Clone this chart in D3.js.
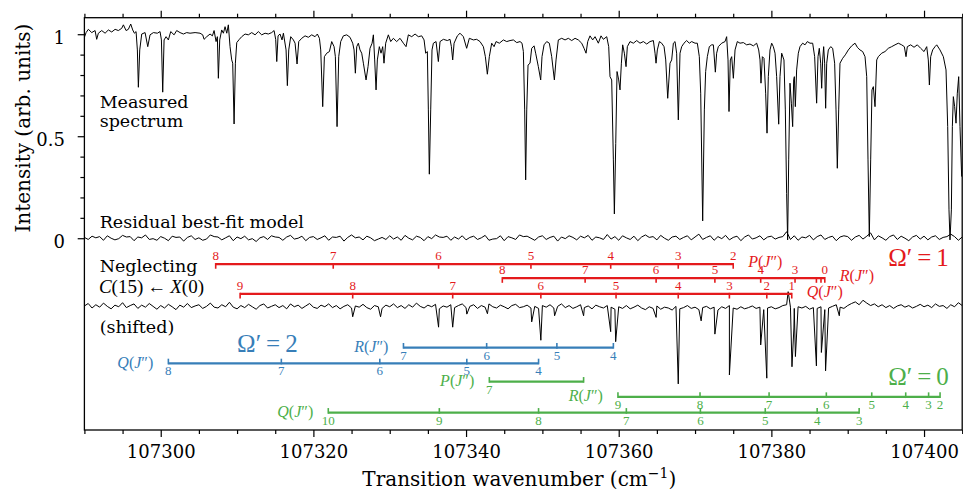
<!DOCTYPE html>
<html>
<head>
<meta charset="utf-8">
<script src="https://cdn.jsdelivr.net/npm/d3@7"></script>
<style>
  body { margin: 0; background: #fff; }
  svg { display: block; font-family: "DejaVu Serif", serif; }
  .math { font-family: "Liberation Serif", "DejaVu Serif", serif; }
</style>
</head>
<body>
<svg id="chart" width="963" height="491"></svg>
<script>
// Measured spectrum, [wavenumber (cm-1), intensity]
const measured = [
  [107289.95,0.980],[107290.22,1.008],[107290.52,1.024],[107290.96,1.008],[107291.40,1.018],[107291.61,0.975],[107291.83,1.005],[107292.27,1.018],
  [107292.71,1.005],[107293.14,1.021],[107293.58,1.011],[107294.02,1.024],[107294.45,1.018],[107294.89,1.029],[107295.11,1.046],[107295.46,1.018],
  [107295.76,1.024],[107296.07,1.050],[107296.33,1.021],[107296.55,1.005],[107296.77,1.013],[107296.94,0.923],[107297.07,0.740],[107297.25,0.923],
  [107297.51,1.001],[107297.95,1.008],[107298.30,0.939],[107298.60,0.997],[107299.04,1.008],[107299.56,1.005],[107299.91,1.013],[107300.09,0.972],
  [107300.26,0.716],[107300.44,0.972],[107300.70,0.988],[107301.00,0.972],[107301.31,1.013],[107301.75,0.997],[107302.09,1.018],[107302.53,1.008],
  [107302.97,1.001],[107303.40,1.008],[107303.84,1.005],[107304.50,1.008],[107305.15,1.005],[107305.50,0.997],[107305.68,0.975],[107306.03,0.988],
  [107306.46,1.001],[107306.77,0.992],[107306.99,1.018],[107307.25,0.964],[107307.42,0.988],[107307.55,0.784],[107307.73,0.972],[107307.99,1.021],
  [107308.21,1.005],[107308.43,1.037],[107308.65,1.005],[107308.86,1.046],[107309.08,0.939],[107309.30,0.874],[107309.43,0.858],[107309.61,0.560],
  [107309.78,0.858],[107309.96,0.959],[107310.30,0.975],[107310.61,0.988],[107311.05,1.001],[107311.48,0.997],[107311.92,1.008],[107312.36,0.997],
  [107312.79,1.013],[107313.23,0.997],[107313.67,1.005],[107314.10,1.001],[107314.54,1.008],[107314.85,1.018],[107315.06,0.975],[107315.20,0.866],
  [107315.37,0.992],[107315.63,1.001],[107315.89,0.972],[107316.07,1.005],[107316.42,0.923],[107316.59,0.748],[107316.77,0.923],[107317.03,0.988],
  [107317.38,0.972],[107317.60,0.956],[107317.86,0.854],[107318.08,0.964],[107318.47,0.980],[107318.91,0.992],[107319.34,0.985],[107319.78,0.997],
  [107320.22,0.988],[107320.52,1.001],[107320.79,0.980],[107320.96,0.923],[107321.22,0.645],[107321.44,0.890],[107321.75,0.907],[107322.10,0.915],
  [107322.40,0.964],[107322.71,0.939],[107322.88,0.890],[107323.10,0.547],[107323.32,0.890],[107323.58,0.964],[107323.93,0.992],[107324.37,0.997],
  [107324.80,0.985],[107325.15,0.956],[107325.33,0.923],[107325.50,0.809],[107325.68,0.939],[107325.89,0.956],[107326.11,0.923],[107326.33,0.907],
  [107326.55,0.858],[107326.90,0.776],[107327.16,0.841],[107327.42,0.931],[107327.69,0.956],[107327.86,0.997],[107328.03,0.874],[107328.21,0.727],
  [107328.38,0.874],[107328.64,0.939],[107328.86,0.907],[107329.08,0.939],[107329.25,0.858],[107329.47,0.956],[107329.82,0.997],[107330.13,0.964],
  [107330.48,0.980],[107330.91,0.964],[107331.35,0.980],[107331.79,0.956],[107332.14,0.939],[107332.44,0.997],[107332.88,0.988],[107333.32,1.001],
  [107333.75,0.988],[107334.19,0.992],[107334.50,0.972],[107334.71,0.907],[107334.93,0.915],[107335.06,0.629],[107335.19,0.314],[107335.37,0.629],
  [107335.54,0.923],[107335.72,0.956],[107336.07,0.964],[107336.37,0.866],[107336.59,0.964],[107337.03,0.975],[107337.55,0.969],[107337.90,0.975],
  [107338.08,0.939],[107338.25,0.874],[107338.43,0.956],[107338.86,0.992],[107339.21,1.005],[107339.65,0.988],[107340.08,0.931],[107340.43,0.980],
  [107340.96,0.972],[107341.39,0.975],[107341.83,0.964],[107342.27,0.939],[107342.53,0.890],[107342.79,0.804],[107343.05,0.890],[107343.36,0.956],
  [107343.67,0.939],[107343.93,0.964],[107344.36,0.956],[107344.89,0.972],[107345.33,0.964],[107345.76,0.969],[107346.20,0.972],[107346.64,0.959],
  [107347.07,0.964],[107347.33,0.956],[107347.51,0.915],[107347.68,0.629],[107347.81,0.286],[107347.95,0.629],[107348.12,0.849],[107348.38,0.858],
  [107348.60,0.931],[107348.91,0.943],[107349.12,0.907],[107349.47,0.841],[107349.78,0.776],[107349.95,0.890],[107350.22,0.948],[107350.57,0.964],
  [107350.91,0.956],[107351.22,0.890],[107351.57,0.776],[107351.79,0.874],[107352.09,0.972],[107352.53,0.980],[107352.97,0.972],[107353.40,0.980],
  [107353.84,0.969],[107354.28,0.980],[107354.71,0.972],[107355.15,0.956],[107355.46,0.931],[107355.72,0.907],[107355.94,0.964],[107356.24,0.992],
  [107356.59,0.972],[107356.90,0.988],[107357.33,0.956],[107357.68,0.992],[107357.99,0.975],[107358.43,0.988],[107358.69,0.939],[107358.86,0.792],
  [107359.08,0.776],[107359.30,0.384],[107359.43,0.119],[107359.61,0.465],[107359.78,0.817],[107360.00,0.776],[107360.17,0.727],[107360.35,0.858],
  [107360.52,0.948],[107360.74,0.907],[107360.96,0.841],[107361.13,0.939],[107361.48,0.964],[107361.92,0.956],[107362.36,0.969],[107362.79,0.956],
  [107363.23,0.964],[107363.67,0.952],[107364.10,0.964],[107364.54,0.969],[107364.76,0.907],[107364.89,0.858],[107365.06,0.923],[107365.33,0.964],
  [107365.63,0.956],[107365.94,0.939],[107366.16,0.874],[107366.42,0.686],[107366.72,0.858],[107366.94,0.874],[107367.16,0.956],[107367.38,0.964],
  [107367.59,0.907],[107367.81,0.580],[107368.03,0.907],[107368.25,0.939],[107368.55,0.956],[107368.90,0.969],[107369.25,0.956],[107369.56,0.964],
  [107370.00,0.956],[107370.30,0.956],[107370.56,0.890],[107370.74,0.711],[107371.00,0.085],[107371.22,0.629],[107371.39,0.817],[107371.61,0.890],
  [107371.87,0.939],[107372.18,0.948],[107372.40,0.948],[107372.66,0.814],[107372.83,0.907],[107373.05,0.939],[107373.49,0.956],[107373.93,0.964],
  [107374.14,0.988],[107374.32,0.874],[107374.45,0.621],[107374.62,0.874],[107374.80,0.890],[107375.02,0.784],[107375.24,0.923],[107375.54,0.964],
  [107375.89,0.956],[107376.33,0.959],[107376.76,0.948],[107377.20,0.952],[107377.64,0.943],[107378.07,0.956],[107378.34,0.923],[107378.51,0.874],
  [107378.64,0.760],[107378.82,0.890],[107379.03,0.882],[107379.25,0.711],[107379.43,0.515],[107379.60,0.792],[107379.82,0.923],[107380.04,0.956],
  [107380.26,0.939],[107380.48,0.907],[107380.69,0.792],[107380.96,0.559],[107381.13,0.792],[107381.35,0.907],[107381.65,0.874],[107381.83,0.629],
  [107382.00,0.220],[107382.13,-0.008],[107382.27,0.384],[107382.44,0.760],[107382.62,0.662],[107382.79,0.547],[107382.92,0.776],[107383.01,0.792],
  [107383.14,0.645],[107383.31,0.825],[107383.53,0.907],[107383.75,0.939],[107384.10,0.956],[107384.41,0.948],[107384.71,0.964],[107385.06,0.956],
  [107385.41,0.956],[107385.67,0.890],[107385.93,0.662],[107386.11,0.890],[107386.28,0.931],[107386.46,0.858],[107386.59,0.735],[107386.72,0.874],
  [107386.85,0.939],[107386.98,0.858],[107387.11,0.637],[107387.25,0.858],[107387.46,0.923],[107387.77,0.939],[107388.03,0.931],[107388.29,0.858],
  [107388.47,0.629],[107388.64,0.343],[107388.82,0.629],[107388.99,0.858],[107389.34,0.882],[107389.69,0.899],[107390.08,0.923],[107390.52,0.943],
  [107390.96,0.956],[107391.26,0.936],[107391.61,0.923],[107391.96,0.915],[107392.27,0.890],[107392.49,0.792],[107392.66,0.384],[107392.83,0.008],
  [107393.01,0.384],[107393.18,0.727],[107393.36,0.743],[107393.58,0.645],[107393.80,0.874],[107394.01,0.890],[107394.45,0.907],[107394.89,0.915],
  [107395.32,0.931],[107395.76,0.939],[107396.20,0.948],[107396.63,0.956],[107397.07,0.948],[107397.42,0.939],[107397.64,0.890],[107397.81,0.939],
  [107398.25,0.948],[107398.69,0.936],[107399.12,0.948],[107399.56,0.931],[107400.00,0.915],[107400.35,0.939],[107400.56,0.874],[107400.70,0.751],
  [107400.87,0.890],[107401.13,0.923],[107401.44,0.939],[107401.66,0.948],[107402.09,0.923],[107402.53,0.890],[107402.88,0.825],[107403.10,0.547],
  [107403.27,0.139],[107403.40,-0.008],[107403.58,0.139],[107403.71,0.547],[107403.84,0.694],[107404.01,0.645],[107404.19,0.564],[107404.36,0.711],
  [107404.54,0.792],[107404.71,0.547],[107404.93,0.302]
];

// Residual and shifted traces are sampled on a 0.5 cm-1 grid starting at 107290
const gridStart = 107290;
const gridStep = 0.5;

const residual = [
  0.004,-0.006,0.010,0.002,0.008,-0.010,0.012,0.000,-0.008,-0.002,0.014,0.006,0.008,-0.012,0.006,0.002,0.016,-0.006,-0.002,-0.010,
  0.008,0.000,-0.012,0.010,0.004,0.006,-0.014,0.004,0.012,-0.006,0.002,-0.010,-0.004,0.016,0.008,0.006,-0.008,0.002,0.012,-0.012,
  0.006,-0.002,0.010,-0.008,-0.002,-0.016,0.002,0.008,-0.006,0.012,0.006,0.004,-0.010,0.006,0.014,-0.004,0.000,0.010,-0.012,0.004,
  0.008,-0.006,0.002,0.012,-0.010,0.006,0.004,0.010,-0.014,0.004,0.016,0.002,0.006,-0.008,0.010,0.002,-0.012,-0.004,0.004,-0.006,
  0.012,-0.004,0.006,-0.010,0.014,0.000,-0.008,0.010,0.004,-0.012,0.008,-0.002,0.016,0.006,0.004,0.010,-0.010,0.006,-0.004,0.012,
  -0.008,0.004,0.010,-0.006,0.002,0.014,-0.010,-0.004,-0.002,0.012,-0.012,0.008,0.002,-0.006,0.016,0.008,0.010,0.000,-0.010,0.006,
  0.012,-0.006,0.004,0.010,-0.014,0.006,-0.002,0.012,0.004,-0.008,0.010,0.002,0.014,-0.010,0.006,0.002,-0.006,0.018,-0.004,0.008,
  -0.010,0.012,0.002,-0.006,0.010,-0.012,0.006,0.016,0.004,0.008,-0.008,0.014,0.000,-0.010,0.006,0.010,-0.006,0.004,0.012,-0.008,
  0.006,0.020,-0.006,0.004,0.012,-0.010,0.008,-0.002,0.014,-0.008,0.004,0.010,-0.012,0.006,0.016,-0.004,0.002,0.012,-0.008,0.006,
  0.010,-0.004,0.004,0.008,0.032,-0.006,0.012,-0.010,0.006,0.002,0.014,-0.008,0.008,0.016,-0.006,0.004,0.010,-0.012,0.006,0.012,
  0.008,-0.010,0.006,0.014,-0.004,0.010,0.026,-0.008,0.012,0.002,-0.010,0.008,0.016,-0.006,0.010,0.000,-0.012,0.006,0.014,-0.004,
  0.010,-0.008,0.006,0.012,-0.006,0.004,0.008,0.020,0.008,-0.010,0.006
];

// Shifted trace (model neglecting C(15) <- X(0)): background on the grid...
const shiftedBackground = [
  -0.332,-0.320,-0.342,-0.326,-0.338,-0.318,-0.334,-0.346,-0.328,-0.336,-0.316,-0.340,-0.330,-0.322,-0.344,-0.328,-0.338,-0.320,-0.334,-0.348,
  -0.330,-0.342,-0.324,-0.336,-0.350,-0.328,-0.338,-0.320,-0.340,-0.332,-0.326,-0.344,-0.334,-0.318,-0.338,-0.342,-0.326,-0.336,-0.314,-0.338,
  -0.346,-0.330,-0.340,-0.324,-0.336,-0.348,-0.330,-0.322,-0.342,-0.334,-0.326,-0.340,-0.330,-0.346,-0.322,-0.336,-0.328,-0.344,-0.332,-0.320,
  -0.338,-0.344,-0.328,-0.336,-0.322,-0.340,-0.330,-0.346,-0.334,-0.326,-0.342,-0.332,-0.338,-0.324,-0.340,-0.348,-0.330,-0.336,-0.344,-0.328,
  -0.336,-0.322,-0.340,-0.330,-0.344,-0.326,-0.338,-0.318,-0.334,-0.342,-0.328,-0.336,-0.324,-0.346,-0.332,-0.338,-0.326,-0.340,-0.330,-0.322,
  -0.340,-0.334,-0.326,-0.344,-0.330,-0.338,-0.322,-0.336,-0.342,-0.328,-0.336,-0.346,-0.330,-0.324,-0.340,-0.336,-0.328,-0.342,-0.334,-0.344,
  -0.330,-0.338,-0.326,-0.342,-0.334,-0.322,-0.340,-0.330,-0.344,-0.336,-0.326,-0.340,-0.332,-0.346,-0.328,-0.336,-0.342,-0.330,-0.338,-0.348,
  -0.336,-0.344,-0.330,-0.346,-0.338,-0.328,-0.342,-0.350,-0.336,-0.344,-0.332,-0.348,-0.338,-0.342,-0.352,-0.334,-0.346,-0.340,-0.330,-0.344,
  -0.338,-0.350,-0.340,-0.334,-0.346,-0.338,-0.352,-0.336,-0.344,-0.330,-0.342,-0.348,-0.336,-0.346,-0.340,-0.332,-0.344,-0.338,-0.350,-0.342,
  -0.336,-0.346,-0.340,-0.330,-0.326,-0.338,-0.344,-0.336,-0.342,-0.334,-0.348,-0.340,-0.344,-0.336,-0.350,-0.342,-0.334,-0.326,-0.338,-0.344,
  -0.330,-0.320,-0.312,-0.326,-0.304,-0.318,-0.330,-0.322,-0.336,-0.326,-0.340,-0.330,-0.344,-0.332,-0.326,-0.338,-0.330,-0.342,-0.334,-0.324,
  -0.336,-0.328,-0.340,-0.322,-0.334,-0.330,-0.344,-0.326,-0.336,-0.316,-0.330
];
// ...plus the line features that remain in it, [wavenumber, intensity]
const shiftedFeatures = [
  [107325.15,-0.385],[107328.80,-0.385],[107336.40,-0.436],[107338.25,-0.436],[107340.10,-0.372],[107342.80,-0.370],
  [107348.60,-0.410],[107349.80,-0.500],[107351.60,-0.380],[107355.40,-0.380],[107358.95,-0.458],[107359.60,-0.507],
  [107364.90,-0.388],[107367.80,-0.714],[107370.80,-0.405],[107372.60,-0.470],[107374.50,-0.670],[107378.60,-0.523],
  [107379.40,-0.686],[107382.20,-0.262],[107382.70,-0.630],[107382.95,-0.440],[107383.15,-0.580],[107385.90,-0.626],
  [107386.55,-0.560],[107387.10,-0.650],[107388.90,-0.380]
];

// Line assignments, [J'', wavenumber]
const omega1P = [[8,107307.2],[7,107322.6],[6,107336.4],[5,107348.5],[4,107358.95],[3,107367.8],[2,107375.0]];
const omega1R = [[8,107344.75],[7,107355.6],[6,107364.9],[5,107372.6],[4,107378.6],[3,107383.1],[2,107385.9],[1,107386.5],[0,107387.0]];
const omega1Q = [[9,107310.4],[8,107325.15],[7,107338.25],[6,107349.8],[5,107359.65],[4,107367.8],[3,107374.5],[2,107379.4],[1,107382.67]];
const omega2R = [[7,107331.8],[6,107342.7],[5,107351.9],[4,107359.3]];
const omega2Q = [[8,107301.0],[7,107315.8],[6,107328.7],[5,107340.1],[4,107349.5]];
const omega0P = [[7,107343.05],[6,107355.4]];
const omega0R = [[9,107359.9],[8,107370.65],[7,107379.7],[6,107387.2],[5,107393.15],[4,107397.6],[3,107400.6],[2,107402.1]];
const omega0Q = [[10,107321.95],[9,107336.5],[8,107349.5],[7,107361.0],[6,107370.7],[5,107379.2],[4,107386.0],[3,107391.5]];

const xTicks = [107300, 107320, 107340, 107360, 107380, 107400];
const yTicks = [0, 0.5, 1];

// ---------------------------------------------------------------------------
const RED = "#e41a1c", BLUE = "#377eb8", GREEN = "#4daf4a";

const ladders = [
  { branch: omega1P, letter: "P", color: RED, y: -0.127, labels: "above", name: "end", hide: [] },
  { branch: omega1R, letter: "R", color: RED, y: -0.196, labels: "above", name: "end", hide: [2, 1] },
  { branch: omega1Q, letter: "Q", color: RED, y: -0.273, labels: "above", name: "end", hide: [] },
  { branch: omega2R, letter: "R", color: BLUE, y: -0.536, labels: "below", name: "start", hide: [] },
  { branch: omega2Q, letter: "Q", color: BLUE, y: -0.613, labels: "below", name: "start", hide: [] },
  { branch: omega0P, letter: "P", color: GREEN, y: -0.703, labels: "below", name: "start", hide: [6] },
  { branch: omega0R, letter: "R", color: GREEN, y: -0.778, labels: "below", name: "start", hide: [] },
  { branch: omega0Q, letter: "Q", color: GREEN, y: -0.855, labels: "below", name: "start", hide: [] }
];

const W = 963, H = 491;
const plot = { left: 84.4, right: 962.2, top: 17.7, bottom: 430 };

const x = d3.scaleLinear().domain([107290, 107405]).range([plot.left, plot.right]);
const y = d3.scaleLinear().domain([-0.94, 1.081]).range([plot.bottom, plot.top]);

const svg = d3.select("#chart");
svg.append("rect").attr("width", W).attr("height", H).attr("fill", "#fff");

svg.append("clipPath").attr("id", "clip")
  .append("rect")
  .attr("x", plot.left).attr("y", plot.top)
  .attr("width", plot.right - plot.left).attr("height", plot.bottom - plot.top);

const traces = svg.append("g").attr("clip-path", "url(#clip)");
const line = d3.line().x((d) => x(d[0])).y((d) => y(d[1]));

const residualPts = residual.map((v, i) => [gridStart + i * gridStep, v]);
const shiftedPts = shiftedBackground
  .map((v, i) => [gridStart + i * gridStep, v])
  .concat(shiftedFeatures)
  .sort((a, b) => a[0] - b[0]);

[measured, residualPts, shiftedPts].forEach((pts) => {
  traces.append("path")
    .datum(pts)
    .attr("d", line)
    .attr("fill", "none")
    .attr("stroke", "#000")
    .attr("stroke-width", 1)
    .attr("stroke-linejoin", "round");
});

// Assignment ladders
function drawLadder(cfg) {
  const g = svg.append("g").attr("class", "math");
  const yy = y(cfg.y);
  const xs = cfg.branch.map((d) => x(d[1]));
  const x0 = d3.min(xs), x1 = d3.max(xs);
  const dir = cfg.labels === "above" ? 1 : -1;

  g.append("line")
    .attr("x1", x0).attr("x2", x1).attr("y1", yy).attr("y2", yy)
    .attr("stroke", cfg.color).attr("stroke-width", 2.2);

  g.selectAll("line.tick")
    .data(cfg.branch)
    .join("line")
    .attr("class", "tick")
    .attr("x1", (d) => x(d[1])).attr("x2", (d) => x(d[1]))
    .attr("y1", yy - dir * 1.1).attr("y2", yy + dir * 4.6)
    .attr("stroke", cfg.color).attr("stroke-width", 1.6);

  g.selectAll("text.j")
    .data(cfg.branch.filter((d) => !cfg.hide.includes(d[0])))
    .join("text")
    .attr("class", "j")
    .attr("x", (d) => x(d[1]))
    .attr("y", cfg.labels === "above" ? yy - 4 : yy + 12)
    .attr("text-anchor", "middle")
    .attr("font-size", 13)
    .attr("fill", cfg.color)
    .text((d) => d[0]);

  const nameX = cfg.name === "end" ? x1 + 15 : x0 - 15;
  const t = g.append("text")
    .attr("x", nameX)
    .attr("y", cfg.labels === "above" ? yy + 3 : yy + 4.5)
    .attr("text-anchor", cfg.name === "end" ? "start" : "end")
    .attr("font-size", 16)
    .attr("fill", cfg.color);
  t.append("tspan").attr("font-style", "italic").text(cfg.letter);
  t.append("tspan").text("(");
  t.append("tspan").attr("font-style", "italic").text("J");
  t.append("tspan").text("\u2033)");
}
ladders.forEach(drawLadder);

// Omega' labels
function omegaLabel(value, color, wn, yv) {
  const t = svg.append("text").attr("class", "math")
    .attr("x", x(wn)).attr("y", y(yv))
    .attr("font-size", 25).attr("fill", color);
  t.append("tspan").text("\u03A9\u2032");
  t.append("tspan").attr("dx", 5).text("=");
  t.append("tspan").attr("dx", 5).text(value);
}
omegaLabel("1", RED, 107395.3, -0.136);
omegaLabel("2", BLUE, 107310.0, -0.557);
omegaLabel("0", GREEN, 107395.3, -0.719);

// Text annotations
const note = (str, wn, yv) =>
  svg.append("text").attr("x", x(wn)).attr("y", y(yv)).attr("font-size", 17.5).attr("fill", "#000").text(str);
note("Measured", 107292.0, 0.639);
note("spectrum", 107292.0, 0.546);
note("Residual best-fit model", 107292.0, 0.049);
note("Neglecting", 107292.0, -0.164);
note("(shifted)", 107292.0, -0.464);

const c15 = svg.append("text").attr("class", "math")
  .attr("x", x(107291.9)).attr("y", y(-0.270)).attr("font-size", 19).attr("fill", "#000");
c15.append("tspan").attr("font-style", "italic").text("C");
c15.append("tspan").text("(15)");
c15.append("tspan").attr("dx", 4).text("\u2190");
c15.append("tspan").attr("dx", 4).attr("font-style", "italic").text("X");
c15.append("tspan").text("(0)");

// Axes
const minorX = d3.range(107290, 107405.1, 5).filter((v) => !xTicks.includes(v));
const minorY = d3.range(1, 10).map((v) => v / 10).filter((v) => v !== 0.5);

function styleAxis(g) {
  g.select(".domain").remove();
  g.selectAll("line").attr("stroke", "#000").attr("stroke-width", 1.2);
  g.selectAll("text").attr("fill", "#000").attr("font-size", 18).attr("font-family", "DejaVu Serif, serif");
}

svg.append("g").attr("transform", `translate(0,${plot.bottom})`)
  .call(d3.axisBottom(x).tickValues(xTicks).tickFormat(d3.format("d")).tickSize(7).tickPadding(8.5))
  .call(styleAxis);
svg.append("g").attr("transform", `translate(0,${plot.bottom})`)
  .call(d3.axisBottom(x).tickValues(minorX).tickFormat("").tickSize(4))
  .call(styleAxis);
svg.append("g").attr("transform", `translate(0,${plot.top})`)
  .call(d3.axisTop(x).tickValues(xTicks).tickFormat("").tickSize(7))
  .call(styleAxis);
svg.append("g").attr("transform", `translate(0,${plot.top})`)
  .call(d3.axisTop(x).tickValues(minorX).tickFormat("").tickSize(4))
  .call(styleAxis);

const yAxis = svg.append("g").attr("transform", `translate(${plot.left},0)`)
  .call(d3.axisLeft(y).tickValues(yTicks).tickFormat((d) => String(d)).tickSize(6.7).tickPadding(12.7))
  .call(styleAxis);
yAxis.selectAll("text").attr("dy", "0.5em");
svg.append("g").attr("transform", `translate(${plot.left},0)`)
  .call(d3.axisLeft(y).tickValues(minorY).tickFormat("").tickSize(4))
  .call(styleAxis);

svg.append("rect")
  .attr("x", plot.left).attr("y", plot.top)
  .attr("width", plot.right - plot.left).attr("height", plot.bottom - plot.top)
  .attr("fill", "none").attr("stroke", "#000").attr("stroke-width", 1.3);

// Axis titles
svg.append("text")
  .attr("transform", `translate(30,${y(0.54)}) rotate(-90)`)
  .attr("text-anchor", "middle").attr("font-size", 20).attr("fill", "#000")
  .text("Intensity (arb. units)");

const xt = svg.append("text")
  .attr("x", (plot.left + plot.right) / 2 - 4).attr("y", 486)
  .attr("text-anchor", "middle").attr("font-size", 20).attr("fill", "#000");
xt.append("tspan").text("Transition wavenumber (cm");
xt.append("tspan").attr("dy", -8).attr("font-size", 14).text("\u22121");
xt.append("tspan").attr("dy", 8).text(")");
</script>
</body>
</html>
